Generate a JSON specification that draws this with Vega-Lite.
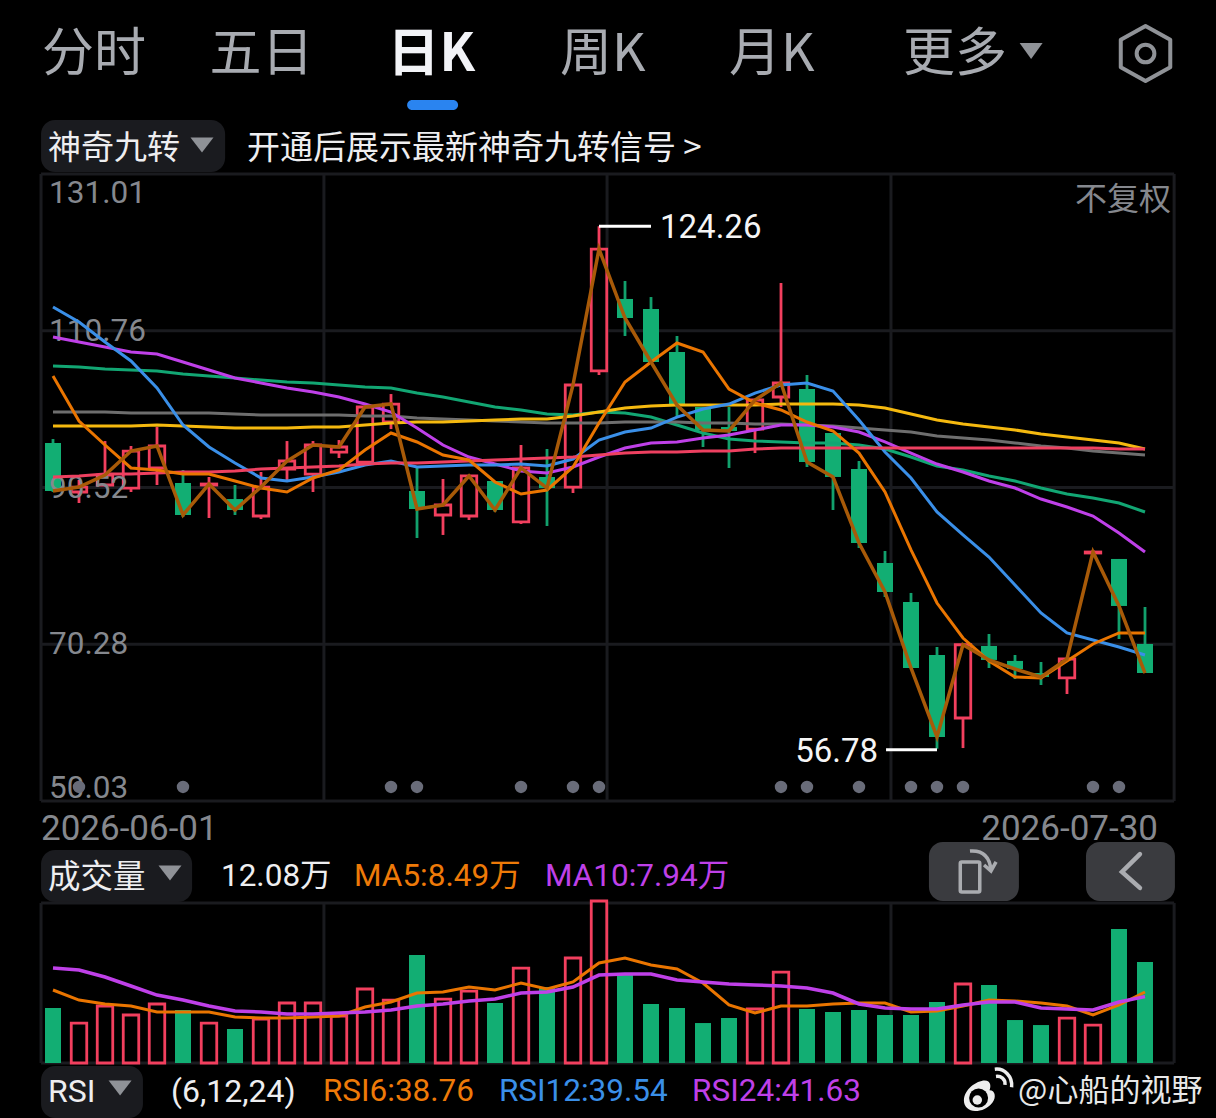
{"$schema":"https://vega.github.io/schema/vega-lite/v6.json","background":"#000000","padding":0,"spacing":0,"bounds":"flush","config":{"axis":{"disable":true},"view":{"stroke":null},"point":{"opacity":1},"text":{"font":"Roboto, 'Noto Sans CJK SC'","baseline":"middle"}},
"datasets":{"daily":[
{"n":0,"date":"2026-06-01","dir":"down","open":96.27,"close":90.07,"high":96.78,"low":89.94,"ma5":104.92,"ma10":113.84,"ma20":109.96,"ma30":106.21,"ma60":100.27,"ma120":98.46,"ma250":91.88,"vol":6.58,"volMa5":8.73,"volMa10":11.36,"flag":0},
{"n":1,"date":"2026-06-02","dir":"up","open":89.94,"close":90.58,"high":91.49,"low":88.52,"ma5":99.11,"ma10":111.89,"ma20":109.31,"ma30":106.08,"ma60":100.27,"ma120":98.46,"ma250":92.01,"vol":4.78,"volMa5":7.53,"volMa10":11.12,"flag":1},
{"n":2,"date":"2026-06-03","dir":"up","open":90.84,"close":92.13,"high":96.52,"low":90.84,"ma5":96.01,"ma10":109.31,"ma20":108.66,"ma30":105.82,"ma60":100.27,"ma120":98.46,"ma250":92.26,"vol":6.82,"volMa5":7.06,"volMa10":10.29,"flag":0},
{"n":3,"date":"2026-06-04","dir":"up","open":90.45,"close":95.23,"high":95.88,"low":89.94,"ma5":93.04,"ma10":106.86,"ma20":108.02,"ma30":105.70,"ma60":100.14,"ma120":98.46,"ma250":92.26,"vol":5.74,"volMa5":6.82,"volMa10":9.21,"flag":0},
{"n":4,"date":"2026-06-05","dir":"up","open":93.04,"close":95.88,"high":98.33,"low":90.84,"ma5":92.78,"ma10":103.37,"ma20":107.76,"ma30":105.57,"ma60":100.14,"ma120":98.59,"ma250":92.39,"vol":7.06,"volMa5":6.10,"volMa10":8.13,"flag":0},
{"n":5,"date":"2026-06-08","dir":"down","open":91.10,"close":86.97,"high":92.78,"low":86.71,"ma5":92.26,"ma10":98.59,"ma20":106.73,"ma30":105.18,"ma60":100.14,"ma120":98.46,"ma250":92.52,"vol":6.34,"volMa5":6.10,"volMa10":7.53,"flag":1},
{"n":6,"date":"2026-06-09","dir":"up","open":90.84,"close":90.97,"high":91.88,"low":86.58,"ma5":92.26,"ma10":95.75,"ma20":105.70,"ma30":104.92,"ma60":100.14,"ma120":98.33,"ma250":92.52,"vol":4.78,"volMa5":6.10,"volMa10":6.82,"flag":0},
{"n":7,"date":"2026-06-10","dir":"down","open":89.03,"close":87.61,"high":90.84,"low":86.97,"ma5":91.36,"ma10":93.68,"ma20":104.66,"ma30":104.66,"ma60":100.01,"ma120":98.20,"ma250":92.65,"vol":4.07,"volMa5":5.50,"volMa10":6.22,"flag":0},
{"n":8,"date":"2026-06-11","dir":"up","open":86.84,"close":90.58,"high":92.52,"low":86.45,"ma5":90.45,"ma10":91.75,"ma20":104.02,"ma30":104.40,"ma60":99.88,"ma120":98.20,"ma250":92.91,"vol":5.26,"volMa5":5.38,"volMa10":6.10,"flag":0},
{"n":9,"date":"2026-06-12","dir":"up","open":92.91,"close":93.94,"high":96.52,"low":91.23,"ma5":89.94,"ma10":91.36,"ma20":103.37,"ma30":104.14,"ma60":99.88,"ma120":98.20,"ma250":93.04,"vol":7.18,"volMa5":5.38,"volMa10":5.86,"flag":0},
{"n":10,"date":"2026-06-15","dir":"up","open":92.26,"close":96.01,"high":96.52,"low":89.94,"ma5":91.75,"ma10":91.88,"ma20":102.85,"ma30":104.02,"ma60":99.88,"ma120":98.33,"ma250":93.17,"vol":7.18,"volMa5":5.50,"volMa10":5.86,"flag":0},
{"n":11,"date":"2026-06-16","dir":"up","open":95.10,"close":95.75,"high":96.65,"low":94.33,"ma5":92.78,"ma10":92.52,"ma20":102.21,"ma30":103.76,"ma60":99.88,"ma120":98.33,"ma250":93.30,"vol":5.62,"volMa5":5.62,"volMa10":5.98,"flag":0},
{"n":12,"date":"2026-06-17","dir":"up","open":93.81,"close":100.92,"high":100.92,"low":93.81,"ma5":95.36,"ma10":93.43,"ma20":101.30,"ma30":103.50,"ma60":99.75,"ma120":98.59,"ma250":93.55,"vol":8.85,"volMa5":6.70,"volMa10":6.10,"flag":0},
{"n":13,"date":"2026-06-18","dir":"up","open":98.98,"close":101.30,"high":102.59,"low":98.07,"ma5":97.56,"ma10":93.94,"ma20":100.27,"ma30":103.37,"ma60":99.75,"ma120":98.85,"ma250":93.68,"vol":7.53,"volMa5":7.30,"volMa10":6.34,"flag":1},
{"n":14,"date":"2026-06-22","dir":"down","open":90.07,"close":87.74,"high":93.04,"low":84.00,"ma5":96.40,"ma10":93.17,"ma20":98.20,"ma30":102.72,"ma60":99.50,"ma120":98.98,"ma250":93.68,"vol":12.92,"volMa5":8.37,"volMa10":6.82,"flag":1},
{"n":15,"date":"2026-06-23","dir":"up","open":86.97,"close":88.26,"high":91.62,"low":84.39,"ma5":94.72,"ma10":93.30,"ma20":96.01,"ma30":102.21,"ma60":99.37,"ma120":98.98,"ma250":93.81,"vol":7.65,"volMa5":8.49,"volMa10":7.06,"flag":0},
{"n":16,"date":"2026-06-24","dir":"up","open":86.84,"close":92.01,"high":92.01,"low":86.32,"ma5":94.07,"ma10":93.43,"ma20":94.46,"ma30":101.56,"ma60":99.24,"ma120":99.11,"ma250":93.94,"vol":8.61,"volMa5":9.09,"volMa10":7.42,"flag":0},
{"n":17,"date":"2026-06-25","dir":"down","open":91.36,"close":87.61,"high":91.36,"low":87.36,"ma5":91.23,"ma10":93.43,"ma20":93.55,"ma30":100.92,"ma60":99.11,"ma120":99.24,"ma250":94.07,"vol":7.18,"volMa5":8.73,"volMa10":7.65,"flag":0},
{"n":18,"date":"2026-06-26","dir":"up","open":86.07,"close":93.04,"high":96.01,"low":85.81,"ma5":89.68,"ma10":93.55,"ma20":92.65,"ma30":100.53,"ma60":98.98,"ma120":99.37,"ma250":94.20,"vol":11.36,"volMa5":9.57,"volMa10":8.37,"flag":1},
{"n":19,"date":"2026-06-29","dir":"down","open":91.88,"close":90.45,"high":95.49,"low":85.55,"ma5":90.20,"ma10":93.30,"ma20":92.39,"ma30":100.01,"ma60":98.85,"ma120":99.37,"ma250":94.33,"vol":9.09,"volMa5":8.85,"volMa10":8.49,"flag":0},
{"n":20,"date":"2026-06-30","dir":"up","open":90.58,"close":103.76,"high":103.76,"low":89.81,"ma5":93.17,"ma10":94.20,"ma20":93.17,"ma30":99.88,"ma60":98.85,"ma120":99.75,"ma250":94.46,"vol":12.56,"volMa5":9.69,"volMa10":9.09,"flag":1},
{"n":21,"date":"2026-07-01","dir":"up","open":105.57,"close":121.32,"high":124.26,"low":105.05,"ma5":98.85,"ma10":96.65,"ma20":94.46,"ma30":100.27,"ma60":98.85,"ma120":100.27,"ma250":94.72,"vol":19.38,"volMa5":11.96,"volMa10":10.52,"flag":1},
{"n":22,"date":"2026-07-02","dir":"down","open":114.87,"close":112.41,"high":117.19,"low":110.09,"ma5":104.14,"ma10":97.69,"ma20":95.62,"ma30":100.14,"ma60":98.98,"ma120":100.79,"ma250":94.97,"vol":10.52,"volMa5":12.56,"volMa10":10.64,"flag":0},
{"n":23,"date":"2026-07-03","dir":"down","open":113.57,"close":106.73,"high":115.12,"low":106.73,"ma5":106.73,"ma10":98.20,"ma20":96.27,"ma30":99.62,"ma60":98.98,"ma120":101.05,"ma250":95.10,"vol":7.06,"volMa5":11.72,"volMa10":10.64,"flag":0},
{"n":24,"date":"2026-07-06","dir":"down","open":108.02,"close":101.17,"high":110.09,"low":99.62,"ma5":109.18,"ma10":99.62,"ma20":96.40,"ma30":98.59,"ma60":98.98,"ma120":101.17,"ma250":95.10,"vol":6.58,"volMa5":11.24,"volMa10":9.93,"flag":0},
{"n":25,"date":"2026-07-07","dir":"down","open":100.92,"close":97.95,"high":100.92,"low":95.75,"ma5":108.02,"ma10":100.66,"ma20":96.91,"ma30":97.56,"ma60":98.85,"ma120":101.17,"ma250":95.23,"vol":4.78,"volMa5":9.57,"volMa10":9.69,"flag":0},
{"n":26,"date":"2026-07-08","dir":"down","open":98.33,"close":97.82,"high":100.92,"low":93.04,"ma5":103.24,"ma10":101.30,"ma20":97.30,"ma30":96.78,"ma60":98.85,"ma120":101.17,"ma250":95.23,"vol":5.38,"volMa5":6.94,"volMa10":9.45,"flag":0},
{"n":27,"date":"2026-07-09","dir":"up","open":98.07,"close":101.82,"high":101.95,"low":94.97,"ma5":101.43,"ma10":102.72,"ma20":97.95,"ma30":96.52,"ma60":98.72,"ma120":101.17,"ma250":95.49,"vol":6.46,"volMa5":5.98,"volMa10":9.33,"flag":0},
{"n":28,"date":"2026-07-10","dir":"up","open":102.21,"close":104.02,"high":116.93,"low":100.92,"ma5":100.53,"ma10":103.76,"ma20":98.59,"ma30":96.40,"ma60":98.72,"ma120":101.30,"ma250":95.62,"vol":10.88,"volMa5":6.82,"volMa10":9.21,"flag":1},
{"n":29,"date":"2026-07-13","dir":"down","open":103.24,"close":93.81,"high":105.05,"low":93.17,"ma5":98.98,"ma10":104.02,"ma20":98.59,"ma30":96.27,"ma60":98.59,"ma120":101.30,"ma250":95.62,"vol":6.46,"volMa5":6.82,"volMa10":8.97,"flag":1},
{"n":30,"date":"2026-07-14","dir":"down","open":97.56,"close":91.88,"high":97.56,"low":87.61,"ma5":97.82,"ma10":102.98,"ma20":98.33,"ma30":96.27,"ma60":98.46,"ma120":101.30,"ma250":95.62,"vol":6.10,"volMa5":7.06,"volMa10":8.37,"flag":0},
{"n":31,"date":"2026-07-15","dir":"down","open":92.91,"close":83.35,"high":93.94,"low":82.71,"ma5":94.97,"ma10":99.24,"ma20":97.69,"ma30":96.01,"ma60":98.20,"ma120":101.17,"ma250":95.62,"vol":6.34,"volMa5":7.18,"volMa10":7.06,"flag":1},
{"n":32,"date":"2026-07-16","dir":"down","open":80.77,"close":77.02,"high":82.32,"low":76.38,"ma5":89.94,"ma10":95.10,"ma20":96.40,"ma30":95.49,"ma60":97.95,"ma120":100.79,"ma250":95.62,"vol":5.74,"volMa5":7.18,"volMa10":6.58,"flag":0},
{"n":33,"date":"2026-07-17","dir":"down","open":75.74,"close":67.21,"high":76.90,"low":67.21,"ma5":82.45,"ma10":91.75,"ma20":94.97,"ma30":94.46,"ma60":97.69,"ma120":100.01,"ma250":95.62,"vol":5.74,"volMa5":6.10,"volMa10":6.46,"flag":1},
{"n":34,"date":"2026-07-20","dir":"down","open":68.89,"close":58.30,"high":69.92,"low":56.78,"ma5":75.60,"ma10":87.36,"ma20":93.55,"ma30":93.30,"ma60":97.17,"ma120":99.24,"ma250":95.62,"vol":7.30,"volMa5":6.22,"volMa10":6.46,"flag":1},
{"n":35,"date":"2026-07-21","dir":"up","open":60.75,"close":70.21,"high":70.21,"low":56.87,"ma5":71.08,"ma10":84.39,"ma20":92.52,"ma30":92.78,"ma60":96.91,"ma120":98.72,"ma250":95.62,"vol":9.45,"volMa5":6.82,"volMa10":6.94,"flag":1},
{"n":36,"date":"2026-07-22","dir":"down","open":70.05,"close":68.25,"high":71.60,"low":67.21,"ma5":68.12,"ma10":81.54,"ma20":91.36,"ma30":92.01,"ma60":96.65,"ma120":98.33,"ma250":95.62,"vol":9.33,"volMa5":7.53,"volMa10":7.30,"flag":0},
{"n":37,"date":"2026-07-23","dir":"down","open":68.12,"close":67.08,"high":68.89,"low":65.79,"ma5":66.05,"ma10":77.93,"ma20":90.45,"ma30":91.36,"ma60":96.27,"ma120":97.95,"ma250":95.62,"vol":5.14,"volMa5":7.42,"volMa10":7.30,"flag":0},
{"n":38,"date":"2026-07-24","dir":"down","open":66.56,"close":66.05,"high":67.98,"low":65.01,"ma5":65.92,"ma10":74.31,"ma20":89.03,"ma30":90.45,"ma60":95.88,"ma120":97.43,"ma250":95.62,"vol":4.54,"volMa5":7.18,"volMa10":6.58,"flag":0},
{"n":39,"date":"2026-07-27","dir":"up","open":65.92,"close":68.37,"high":68.37,"low":63.85,"ma5":68.12,"ma10":71.73,"ma20":88.00,"ma30":89.68,"ma60":95.62,"ma120":97.04,"ma250":95.62,"vol":5.38,"volMa5":6.82,"volMa10":6.46,"flag":0},
{"n":40,"date":"2026-07-28","dir":"up","open":82.06,"close":82.19,"high":82.45,"low":82.06,"ma5":70.31,"ma10":70.82,"ma20":86.84,"ma30":89.16,"ma60":95.23,"ma120":96.65,"ma250":95.62,"vol":4.54,"volMa5":5.74,"volMa10":6.34,"flag":1},
{"n":41,"date":"2026-07-29","dir":"down","open":81.29,"close":75.22,"high":81.29,"low":70.95,"ma5":71.73,"ma10":69.92,"ma20":84.64,"ma30":88.52,"ma60":94.97,"ma120":96.27,"ma250":95.49,"vol":16.03,"volMa5":6.94,"volMa10":7.30,"flag":1},
{"n":42,"date":"2026-07-30","dir":"down","open":70.31,"close":66.56,"high":75.09,"low":66.56,"ma5":71.73,"ma10":68.89,"ma20":82.19,"ma30":87.36,"ma60":94.72,"ma120":95.49,"ma250":95.49,"vol":12.08,"volMa5":8.49,"volMa10":7.94,"flag":0}
],"vgrid":[{"v":-0.46},{"v":10.42},{"v":21.31},{"v":32.23},{"v":43.12}],"levels":[{"level":131.01},{"level":110.76},{"level":90.52},{"level":70.28},{"level":50.03}],"volLevels":[{"level":19.14},{"level":0}]},
"vconcat":[
{"width":1216,"height":174,"layer":[
{"data":{"values":[{"k":"pill"}]},"mark":{"type":"bar","color":"#1a1b1f","cornerRadius":14},"encoding":{"x":{"datum":-0.46,"type":"quantitative","scale":{"domain":[-2.0385,44.7308],"nice":false,"padding":0}},"x2":{"datum":6.62},"y":{"datum":120,"type":"quantitative","scale":{"domain":[174,0],"nice":false,"padding":0}},"y2":{"datum":172}}},
{"data":{"values":[{"k":"tab"}]},"mark":{"type":"bar","color":"#2a84f0","cornerRadius":5},"encoding":{"x":{"datum":13.62,"type":"quantitative"},"x2":{"datum":15.58},"y":{"datum":100,"type":"quantitative"},"y2":{"datum":110}}},
{"data":{"values":[{"label":"分时"}]},"mark":{"type":"text","fontSize":52,"color":"#a8abb1","font":"Noto Sans CJK SC","fontWeight":400},"encoding":{"x":{"datum":1.58,"type":"quantitative"},"y":{"datum":55,"type":"quantitative"},"text":{"field":"label"}}},
{"data":{"values":[{"label":"五日"}]},"mark":{"type":"text","fontSize":52,"color":"#a8abb1","font":"Noto Sans CJK SC","fontWeight":400},"encoding":{"x":{"datum":8.02,"type":"quantitative"},"y":{"datum":55,"type":"quantitative"},"text":{"field":"label"}}},
{"data":{"values":[{"label":"日K"}]},"mark":{"type":"text","fontSize":52,"color":"#f2f3f7","font":"Noto Sans CJK SC","fontWeight":700},"encoding":{"x":{"datum":14.55,"type":"quantitative"},"y":{"datum":55,"type":"quantitative"},"text":{"field":"label"}}},
{"data":{"values":[{"label":"周K"}]},"mark":{"type":"text","fontSize":52,"color":"#a8abb1","font":"Noto Sans CJK SC","fontWeight":400},"encoding":{"x":{"datum":21.15,"type":"quantitative"},"y":{"datum":55,"type":"quantitative"},"text":{"field":"label"}}},
{"data":{"values":[{"label":"月K"}]},"mark":{"type":"text","fontSize":52,"color":"#a8abb1","font":"Noto Sans CJK SC","fontWeight":400},"encoding":{"x":{"datum":27.65,"type":"quantitative"},"y":{"datum":55,"type":"quantitative"},"text":{"field":"label"}}},
{"data":{"values":[{"label":"更多"}]},"mark":{"type":"text","fontSize":52,"color":"#a8abb1","font":"Noto Sans CJK SC","fontWeight":400},"encoding":{"x":{"datum":34.69,"type":"quantitative"},"y":{"datum":55,"type":"quantitative"},"text":{"field":"label"}}},
{"data":{"values":[{"k":"more"}]},"mark":{"type":"point","shape":"M-1,-.7 L1,-.7 L0,.7Z","size":529,"filled":true,"color":"#8f9297"},"encoding":{"x":{"datum":37.62,"type":"quantitative"},"y":{"datum":51,"type":"quantitative"}}},
{"data":{"values":[{"k":"hex"}]},"mark":{"type":"point","shape":"M0,-1 L.9,-.5 L.9,.5 L0,1 L-.9,.5 L-.9,-.5Z","size":3025,"filled":false,"color":"#8f9297","strokeWidth":4,"strokeJoin":"round"},"encoding":{"x":{"datum":42.02,"type":"quantitative"},"y":{"datum":53.5,"type":"quantitative"}}},
{"data":{"values":[{"k":"hexc"}]},"mark":{"type":"point","shape":"circle","size":314,"filled":false,"color":"#8f9297","strokeWidth":4},"encoding":{"x":{"datum":42.02,"type":"quantitative"},"y":{"datum":53.5,"type":"quantitative"}}},
{"data":{"values":[{"label":"神奇九转"}]},"mark":{"type":"text","align":"left","fontSize":33,"color":"#eeeef0","font":"Noto Sans CJK SC"},"encoding":{"x":{"datum":-0.19,"type":"quantitative"},"y":{"datum":149,"type":"quantitative"},"text":{"field":"label"}}},
{"data":{"values":[{"k":"tri"}]},"mark":{"type":"point","shape":"M-1,-.65 L1,-.65 L0,.65Z","size":529,"filled":true,"color":"#8f9297"},"encoding":{"x":{"datum":5.73,"type":"quantitative"},"y":{"datum":145,"type":"quantitative"}}},
{"data":{"values":[{"label":"开通后展示最新神奇九转信号 >"}]},"mark":{"type":"text","align":"left","fontSize":33,"color":"#eeeef0","font":"Noto Sans CJK SC"},"encoding":{"x":{"datum":7.46,"type":"quantitative"},"y":{"datum":149,"type":"quantitative"},"text":{"field":"label"}}}
]},
{"width":1216,"height":627,"layer":[
{"data":{"name":"vgrid"},"mark":{"type":"rule","color":"#1a1b1f","strokeWidth":3},"encoding":{"x":{"field":"v","type":"quantitative","scale":{"domain":[-2.0385,44.7308],"nice":false,"padding":0}}}},
{"data":{"name":"levels"},"mark":{"type":"rule","color":"#1a1b1f","strokeWidth":3},"encoding":{"x":{"datum":-0.46,"type":"quantitative"},"x2":{"datum":43.12},"y":{"field":"level","type":"quantitative","scale":{"domain":[50.03,131.01],"nice":false,"zero":false,"padding":0}}}},
{"data":{"name":"daily"},"mark":{"type":"rule","strokeWidth":2.8},"encoding":{"x":{"field":"n","type":"quantitative"},"y":{"field":"high","type":"quantitative"},"y2":{"field":"low"},"color":{"field":"dir","type":"nominal","scale":{"domain":["up","down"],"range":["#f23f5e","#12a06c"]},"legend":null}}},
{"data":{"name":"daily"},"transform":[{"filter":"datum.dir==='down'"}],"mark":{"type":"bar","width":16,"color":"#12ae73"},"encoding":{"x":{"field":"n","type":"quantitative"},"y":{"field":"open","type":"quantitative"},"y2":{"field":"close"}}},
{"data":{"name":"daily"},"transform":[{"filter":"datum.dir==='up'"}],"mark":{"type":"bar","width":15.5,"fill":"#000000","stroke":"#f23f5e","strokeWidth":2.8},"encoding":{"x":{"field":"n","type":"quantitative"},"y":{"field":"open","type":"quantitative"},"y2":{"field":"close"}}},
{"data":{"name":"levels"},"transform":[{"filter":"datum.level<131 && datum.level>51"}],"mark":{"type":"text","align":"left","fontSize":31.5,"color":"#85888e","dy":1},"encoding":{"x":{"datum":-0.15,"type":"quantitative"},"y":{"field":"level","type":"quantitative"},"text":{"field":"level","type":"quantitative","format":".2f"}}},
{"data":{"name":"levels"},"transform":[{"filter":"datum.level>131"}],"mark":{"type":"text","align":"left","fontSize":31.5,"color":"#85888e","dy":20},"encoding":{"x":{"datum":-0.15,"type":"quantitative"},"y":{"field":"level","type":"quantitative"},"text":{"field":"level","type":"quantitative","format":".2f"}}},
{"data":{"name":"levels"},"transform":[{"filter":"datum.level<51"}],"mark":{"type":"text","align":"left","fontSize":31.5,"color":"#85888e","dy":-12},"encoding":{"x":{"datum":-0.15,"type":"quantitative"},"y":{"field":"level","type":"quantitative"},"text":{"field":"level","type":"quantitative","format":".2f"}}},
{"data":{"values":[{"label":"不复权"}]},"mark":{"type":"text","align":"right","fontSize":32,"color":"#85888e","font":"Noto Sans CJK SC"},"encoding":{"x":{"datum":43,"type":"quantitative"},"y":{"datum":127.7,"type":"quantitative"},"text":{"field":"label"}}},
{"data":{"name":"daily"},"transform":[{"filter":"datum.flag===1"}],"mark":{"type":"point","filled":true,"size":154,"color":"#696c79"},"encoding":{"x":{"field":"n","type":"quantitative"},"y":{"datum":51.84,"type":"quantitative"}}},
{"data":{"name":"daily"},"mark":{"type":"line","color":"#12a673","strokeWidth":3},"encoding":{"x":{"field":"n","type":"quantitative"},"y":{"field":"ma30","type":"quantitative"}}},
{"data":{"name":"daily"},"mark":{"type":"line","color":"#6e6e6e","strokeWidth":3},"encoding":{"x":{"field":"n","type":"quantitative"},"y":{"field":"ma60","type":"quantitative"}}},
{"data":{"name":"daily"},"mark":{"type":"line","color":"#f5b90f","strokeWidth":3},"encoding":{"x":{"field":"n","type":"quantitative"},"y":{"field":"ma120","type":"quantitative"}}},
{"data":{"name":"daily"},"mark":{"type":"line","color":"#bf40e8","strokeWidth":3},"encoding":{"x":{"field":"n","type":"quantitative"},"y":{"field":"ma20","type":"quantitative"}}},
{"data":{"name":"daily"},"mark":{"type":"line","color":"#3a8fe8","strokeWidth":3},"encoding":{"x":{"field":"n","type":"quantitative"},"y":{"field":"ma10","type":"quantitative"}}},
{"data":{"name":"daily"},"mark":{"type":"line","color":"#ee4060","strokeWidth":3},"encoding":{"x":{"field":"n","type":"quantitative"},"y":{"field":"ma250","type":"quantitative"}}},
{"data":{"name":"daily"},"mark":{"type":"line","color":"#ea7500","strokeWidth":3},"encoding":{"x":{"field":"n","type":"quantitative"},"y":{"field":"ma5","type":"quantitative"}}},
{"data":{"name":"daily"},"mark":{"type":"line","color":"#a85a08","strokeWidth":3.5},"encoding":{"x":{"field":"n","type":"quantitative"},"y":{"field":"close","type":"quantitative"}}},
{"data":{"name":"daily"},"transform":[{"filter":"datum.n===21"}],"mark":{"type":"rule","color":"#ffffff","strokeWidth":3},"encoding":{"x":{"field":"n","type":"quantitative"},"x2":{"datum":23},"y":{"field":"high","type":"quantitative"}}},
{"data":{"name":"daily"},"transform":[{"filter":"datum.n===21"}],"mark":{"type":"text","align":"left","dx":9,"dy":2,"fontSize":33,"color":"#f5f5f5"},"encoding":{"x":{"datum":23,"type":"quantitative"},"y":{"field":"high","type":"quantitative"},"text":{"field":"high","type":"quantitative","format":".2f"}}},
{"data":{"name":"daily"},"transform":[{"filter":"datum.n===34"}],"mark":{"type":"rule","color":"#ffffff","strokeWidth":3,"yOffset":1},"encoding":{"x":{"field":"n","type":"quantitative"},"x2":{"datum":32.04},"y":{"field":"low","type":"quantitative"}}},
{"data":{"name":"daily"},"transform":[{"filter":"datum.n===34"}],"mark":{"type":"text","align":"right","dx":-8,"dy":3,"fontSize":33,"color":"#f5f5f5"},"encoding":{"x":{"datum":32.04,"type":"quantitative"},"y":{"field":"low","type":"quantitative"},"text":{"field":"low","type":"quantitative","format":".2f"}}}
]},
{"width":1216,"height":102,"layer":[
{"data":{"name":"daily"},"transform":[{"filter":"datum.n===0"}],"mark":{"type":"text","align":"left","dx":-12,"fontSize":35,"color":"#85888e"},"encoding":{"x":{"field":"n","type":"quantitative","scale":{"domain":[-2.0385,44.7308],"nice":false,"padding":0}},"y":{"datum":27.5,"type":"quantitative","scale":{"domain":[102,0],"nice":false,"padding":0}},"text":{"field":"date"}}},
{"data":{"name":"daily"},"transform":[{"filter":"datum.n===42"}],"mark":{"type":"text","align":"right","dx":13,"fontSize":35,"color":"#85888e"},"encoding":{"x":{"field":"n","type":"quantitative"},"y":{"datum":27.5,"type":"quantitative"},"text":{"field":"date"}}},
{"data":{"values":[{"k":"pill"}]},"mark":{"type":"bar","color":"#1a1b1f","cornerRadius":14},"encoding":{"x":{"datum":-0.46,"type":"quantitative"},"x2":{"datum":5.35},"y":{"datum":49,"type":"quantitative"},"y2":{"datum":101}}},
{"data":{"values":[{"label":"成交量"}]},"mark":{"type":"text","align":"left","fontSize":32.5,"color":"#eeeef0","font":"Noto Sans CJK SC"},"encoding":{"x":{"datum":-0.19,"type":"quantitative"},"y":{"datum":76.5,"type":"quantitative"},"text":{"field":"label"}}},
{"data":{"values":[{"k":"tri"}]},"mark":{"type":"point","shape":"M-1,-.65 L1,-.65 L0,.65Z","size":529,"filled":true,"color":"#8f9297"},"encoding":{"x":{"datum":4.5,"type":"quantitative"},"y":{"datum":72,"type":"quantitative"}}},
{"data":{"values":[{"label":"12.08万"}]},"mark":{"type":"text","align":"left","fontSize":31.5,"color":"#eeeef0"},"encoding":{"x":{"datum":6.46,"type":"quantitative"},"y":{"datum":76,"type":"quantitative"},"text":{"field":"label"}}},
{"data":{"values":[{"label":"MA5:8.49万"}]},"mark":{"type":"text","align":"left","fontSize":31.5,"color":"#ee7a08"},"encoding":{"x":{"datum":11.58,"type":"quantitative"},"y":{"datum":76,"type":"quantitative"},"text":{"field":"label"}}},
{"data":{"values":[{"label":"MA10:7.94万"}]},"mark":{"type":"text","align":"left","fontSize":31.5,"color":"#bf40e8"},"encoding":{"x":{"datum":18.92,"type":"quantitative"},"y":{"datum":76,"type":"quantitative"},"text":{"field":"label"}}},
{"data":{"values":[{"k":"b1"}]},"mark":{"type":"bar","color":"#3a3b3f","cornerRadius":14},"encoding":{"x":{"datum":33.69,"type":"quantitative"},"x2":{"datum":37.15},"y":{"datum":41,"type":"quantitative"},"y2":{"datum":100}}},
{"data":{"values":[{"k":"b2"}]},"mark":{"type":"bar","color":"#3a3b3f","cornerRadius":14},"encoding":{"x":{"datum":39.73,"type":"quantitative"},"x2":{"datum":43.15},"y":{"datum":41,"type":"quantitative"},"y2":{"datum":100}}},
{"data":{"values":[{"k":"phone"}]},"mark":{"type":"point","shape":"M-.55,-1 H.55 Q.65,-1 .65,-.9 V.9 Q.65,1 .55,1 H-.55 Q-.65,1 -.65,.9 V-.9 Q-.65,-1 -.55,-1Z","size":900,"filled":false,"color":"#aaacb0","strokeWidth":3.5},"encoding":{"x":{"datum":35.27,"type":"quantitative"},"y":{"datum":76,"type":"quantitative"}}},
{"data":{"values":[{"k":"arc"}]},"mark":{"type":"point","shape":"M-.87,-.6 Q.4,-.7 .53,.67 M.07,.33 L.53,.73 L.87,.13","size":900,"filled":false,"color":"#aaacb0","strokeWidth":3.5},"encoding":{"x":{"datum":35.77,"type":"quantitative"},"y":{"datum":59,"type":"quantitative"}}},
{"data":{"values":[{"k":"chev"}]},"mark":{"type":"point","shape":"M.5,-.94 L-.5,.05 L.5,.94","size":1296,"filled":false,"color":"#aaacb0","strokeWidth":4.5,"strokeCap":"round"},"encoding":{"x":{"datum":41.46,"type":"quantitative"},"y":{"datum":70,"type":"quantitative"}}}
]},
{"width":1216,"height":160,"layer":[
{"data":{"name":"vgrid"},"mark":{"type":"rule","color":"#1a1b1f","strokeWidth":3},"encoding":{"x":{"field":"v","type":"quantitative","scale":{"domain":[-2.0385,44.7308],"nice":false,"padding":0}}}},
{"data":{"name":"volLevels"},"mark":{"type":"rule","color":"#1a1b1f","strokeWidth":3},"encoding":{"x":{"datum":-0.46,"type":"quantitative"},"x2":{"datum":43.12},"y":{"field":"level","type":"quantitative","scale":{"domain":[0,19.14],"nice":false,"padding":0}}}},
{"data":{"name":"daily"},"transform":[{"filter":"datum.dir==='down'"}],"mark":{"type":"bar","width":16,"orient":"vertical","color":"#12ae73"},"encoding":{"x":{"field":"n","type":"quantitative"},"y":{"field":"vol","type":"quantitative","stack":null},"y2":{"datum":0}}},
{"data":{"name":"daily"},"transform":[{"filter":"datum.dir==='up'"}],"mark":{"type":"bar","width":15.5,"orient":"vertical","fill":"#000000","stroke":"#f23f5e","strokeWidth":2.8},"encoding":{"x":{"field":"n","type":"quantitative"},"y":{"field":"vol","type":"quantitative","stack":null},"y2":{"datum":0}}},
{"data":{"name":"daily"},"mark":{"type":"line","color":"#ea7500","strokeWidth":3},"encoding":{"x":{"field":"n","type":"quantitative"},"y":{"field":"volMa5","type":"quantitative"}}},
{"data":{"name":"daily"},"mark":{"type":"line","color":"#bf40e8","strokeWidth":3.5},"encoding":{"x":{"field":"n","type":"quantitative"},"y":{"field":"volMa10","type":"quantitative"}}}
]},
{"width":1216,"height":55,"layer":[
{"data":{"values":[{"k":"pill"}]},"mark":{"type":"bar","color":"#1a1b1f","cornerRadius":14},"encoding":{"x":{"datum":-0.46,"type":"quantitative","scale":{"domain":[-2.0385,44.7308],"nice":false,"padding":0}},"x2":{"datum":3.46},"y":{"datum":3,"type":"quantitative","scale":{"domain":[55,0],"nice":false,"padding":0}},"y2":{"datum":55}}},
{"data":{"values":[{"label":"RSI"}]},"mark":{"type":"text","align":"left","fontSize":32,"color":"#eeeef0"},"encoding":{"x":{"datum":-0.19,"type":"quantitative"},"y":{"datum":29,"type":"quantitative"},"text":{"field":"label"}}},
{"data":{"values":[{"k":"tri"}]},"mark":{"type":"point","shape":"M-1,-.65 L1,-.65 L0,.65Z","size":529,"filled":true,"color":"#8f9297"},"encoding":{"x":{"datum":2.58,"type":"quantitative"},"y":{"datum":25,"type":"quantitative"}}},
{"data":{"values":[{"label":"(6,12,24)"}]},"mark":{"type":"text","align":"left","fontSize":32,"color":"#eeeef0"},"encoding":{"x":{"datum":4.54,"type":"quantitative"},"y":{"datum":29,"type":"quantitative"},"text":{"field":"label"}}},
{"data":{"values":[{"label":"RSI6:38.76"}]},"mark":{"type":"text","align":"left","fontSize":31.5,"color":"#ee7a08"},"encoding":{"x":{"datum":10.38,"type":"quantitative"},"y":{"datum":29,"type":"quantitative"},"text":{"field":"label"}}},
{"data":{"values":[{"label":"RSI12:39.54"}]},"mark":{"type":"text","align":"left","fontSize":31.5,"color":"#3a8fe8"},"encoding":{"x":{"datum":17.15,"type":"quantitative"},"y":{"datum":29,"type":"quantitative"},"text":{"field":"label"}}},
{"data":{"values":[{"label":"RSI24:41.63"}]},"mark":{"type":"text","align":"left","fontSize":31.5,"color":"#bf40e8"},"encoding":{"x":{"datum":24.58,"type":"quantitative"},"y":{"datum":29,"type":"quantitative"},"text":{"field":"label"}}},
{"data":{"values":[{"k":"logo"}]},"mark":{"type":"point","shape":"M-1,.35 C-1,-.35 -.2,-.9 .3,-.9 C.7,-.9 .7,-.5 .6,-.3 C1,-.3 1,.2 .8,.45 C.5,.85 .1,1 -.3,1 C-.7,1 -1,.75 -1,.35Z","size":1024,"filled":true,"color":"#eeeeee"},"encoding":{"x":{"datum":35.65,"type":"quantitative"},"y":{"datum":32,"type":"quantitative"}}},
{"data":{"values":[{"k":"eye"}]},"mark":{"type":"point","shape":"circle","size":360,"filled":true,"color":"#000000"},"encoding":{"x":{"datum":35.6,"type":"quantitative"},"y":{"datum":35,"type":"quantitative"}}},
{"data":{"values":[{"k":"pupil"}]},"mark":{"type":"point","shape":"circle","size":90,"filled":true,"color":"#eeeeee"},"encoding":{"x":{"datum":35.55,"type":"quantitative"},"y":{"datum":37,"type":"quantitative"}}},
{"data":{"values":[{"k":"waves"}]},"mark":{"type":"point","shape":"M-.6,-.9 C.2,-1 .9,-.3 .8,.6 M-.5,-.3 C-.1,-.35 .3,-.1 .25,.4","size":576,"filled":false,"color":"#eeeeee","strokeWidth":3.5},"encoding":{"x":{"datum":36.5,"type":"quantitative"},"y":{"datum":17,"type":"quantitative"}}},
{"data":{"values":[{"label":"@心船的视野"}]},"mark":{"type":"text","align":"left","fontSize":31,"color":"#e8e8e8","font":"Noto Sans CJK SC"},"encoding":{"x":{"datum":37.12,"type":"quantitative"},"y":{"datum":29,"type":"quantitative"},"text":{"field":"label"}}}
]}
]}
